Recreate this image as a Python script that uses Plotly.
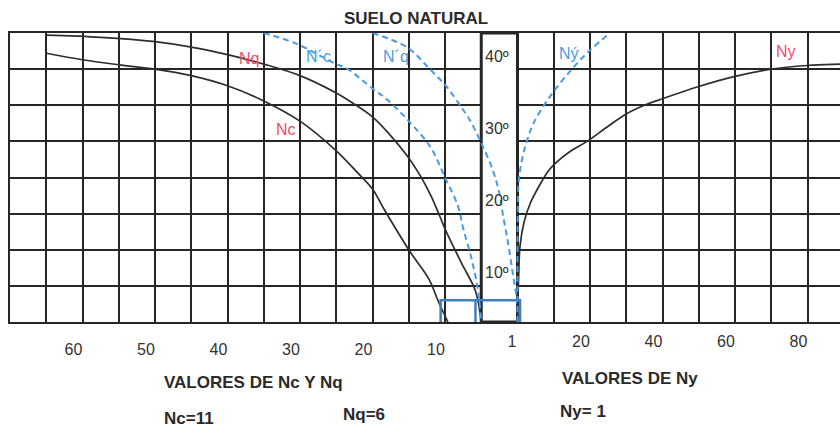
import plotly.graph_objects as go

# ---------------- data ----------------
# Left scale: values of Nc / Nq (and local-shear N'c / N'q); angle phi in degrees
nq_val = [60, 52.5, 45, 40, 35, 30, 25, 20, 18.5, 15, 12.5, 10.3, 8.5, 6.9, 5.7, 5.0, 2.7, 0.8, 0.0]
nq_phi = [39.7, 39.4, 38.8, 38.05, 37.0, 35.7, 34.1, 31.7, 30.8, 28.4, 25.8, 23.1, 20.4, 17.4, 14.6, 12.9, 8.1, 4.3, 0.0]

nc_val = [60, 55, 50, 45, 40, 35, 30, 25, 20, 17, 15, 13.4, 10, 7.2, 5.9, 4.6]
nc_phi = [37.2, 36.3, 35.6, 35.0, 34.1, 32.7, 30.6, 27.8, 23.7, 20.6, 18.4, 15.6, 10.0, 5.9, 2.8, 0.0]

ncl_val = [30, 25.7, 20.2, 18.4, 15, 13, 10, 7, 5, 3.2, 2.5, 1.3, 0.4, 0.0]
ncl_phi = [40, 38.6, 35.8, 35.0, 32.3, 30.8, 27.8, 24.2, 20, 16, 13, 8.6, 4.1, 0.0]

nql_val = [15, 10.2, 7.1, 4.8, 2.8, 1.6, 0.1, -1.6, -2.5, -3.0, -3.7, -4.4, -4.9, -5.1]
nql_phi = [40, 38, 35, 32.6, 29.8, 28, 25, 21, 17.8, 14.8, 10.9, 6.4, 3.2, 0.0]

# Right scale: values of Ny (general) and N'y (local)
ny_val = [0, 0.1, 0.3, 0.7, 1.8, 3.5, 6.4, 8.5, 10.5, 14.5, 19.2, 25, 30, 35, 40, 50, 60, 70, 80, 89, 95]
ny_phi = [0, 3, 6, 10.5, 13.8, 16.4, 19.2, 20.9, 22, 23.6, 25, 27.1, 28.8, 30.0, 30.9, 32.6, 34.0, 35.0, 35.5, 35.7, 35.8]

nyl_val = [0, 0, 0.1, 0.3, 1.2, 2.7, 4.5, 9.1, 15, 20, 25.5]
nyl_phi = [0, 10, 15, 19.2, 22.4, 25.2, 27.6, 31.3, 35, 37.6, 40]

# reading marks (blue) near the bottom
phi_read = 3.0
nc_read = 5.6
nq_read = 0.8
ny_read = 0.7

left_ticks = [60, 50, 40, 30, 20, 10]
right_ticks = [1, 20, 40, 60, 80]
deg_labels = [10, 20, 30, 40]

# ---------------- layout geometry ----------------
W, H = 840, 433
ML, MR, MT, MB = 10, 0, 33, 111
PW = W - ML - MR
PH = H - MT - MB
LEFT_MAX = 65.0                # Nc/Nq value at the left border
CELL = 5.0                     # Nc/Nq units per grid cell
CELLS = PW / 36.25             # number of cells across the plot
left_range = [LEFT_MAX, LEFT_MAX - CELLS * CELL]
box_cells = LEFT_MAX / CELL    # cells from left border to box-left
ny_range = [-(box_cells + 1) * 10, (CELLS - box_cells - 1) * 10]

BLACK = "#262626"
CURVE = "#2e2e2e"
BLUE = "#4a9be3"
BLUE2 = "#3f7fc0"
RED = "#ef4d66"
FONT = "Liberation Sans, Arial, sans-serif"


def px_x(px):
    return (px - ML) / PW


def px_y(py):
    return (H - MB - py) / PH


fig = go.Figure()

smooth = dict(shape="spline", smoothing=1.0)
fig.add_trace(go.Scatter(x=nq_val, y=nq_phi, mode="lines", xaxis="x", yaxis="y",
                         line=dict(color=CURVE, width=1.7, **smooth), hoverinfo="skip"))
fig.add_trace(go.Scatter(x=nc_val, y=nc_phi, mode="lines", xaxis="x", yaxis="y",
                         line=dict(color=CURVE, width=1.7, **smooth), hoverinfo="skip"))
fig.add_trace(go.Scatter(x=ncl_val, y=ncl_phi, mode="lines", xaxis="x", yaxis="y",
                         line=dict(color=BLUE, width=2, dash="6px,4px", **smooth), hoverinfo="skip"))
fig.add_trace(go.Scatter(x=nql_val, y=nql_phi, mode="lines", xaxis="x", yaxis="y",
                         line=dict(color=BLUE, width=2, dash="6px,4px", **smooth), hoverinfo="skip"))
fig.add_trace(go.Scatter(x=ny_val, y=ny_phi, mode="lines", xaxis="x2", yaxis="y",
                         line=dict(color=CURVE, width=1.7, **smooth), hoverinfo="skip"))
fig.add_trace(go.Scatter(x=nyl_val, y=nyl_phi, mode="lines", xaxis="x2", yaxis="y",
                         line=dict(color=BLUE, width=2, dash="6px,4px", **smooth), hoverinfo="skip"))

# reading marks
fig.add_trace(go.Scatter(x=[nc_read, nc_read, -5], y=[0, phi_read, phi_read], mode="lines",
                         xaxis="x", yaxis="y", line=dict(color=BLUE2, width=2.5), hoverinfo="skip"))
fig.add_trace(go.Scatter(x=[nq_read, nq_read], y=[phi_read, 0], mode="lines",
                         xaxis="x", yaxis="y", line=dict(color=BLUE2, width=2.5), hoverinfo="skip"))
fig.add_trace(go.Scatter(x=[0, ny_read, ny_read], y=[phi_read, phi_read, 0], mode="lines",
                         xaxis="x2", yaxis="y", line=dict(color=BLUE2, width=2.5), hoverinfo="skip"))

# central angle box
fig.add_shape(type="rect", xref="x", yref="y", x0=0, x1=-CELL, y0=0, y1=40,
              fillcolor="white", line=dict(color=BLACK, width=3), layer="between")

annotations = []
for d in deg_labels:
    annotations.append(dict(x=-CELL / 2, y=d, xref="x", yref="y", text=f"{d}º",
                            showarrow=False, yshift=-23, xshift=-2,
                            font=dict(family=FONT, size=16, color="#333")))

curve_labels = [
    ("Nq", 32.0, 36.5, "x", RED),
    ("Nc", 26.9, 26.6, "x", RED),
    ("N´c", 22.4, 36.8, "x", BLUE),
    ("N´q", 11.8, 36.7, "x", BLUE),
    ("Ný", 14.2, 37.1, "x2", BLUE),
    ("Ny", 74.1, 37.4, "x2", RED),
]
for txt, xv, yv, xr, col in curve_labels:
    annotations.append(dict(x=xv, y=yv, xref=xr, yref="y", text=txt, showarrow=False,
                            font=dict(family=FONT, size=16, color=col)))

texts = [
    ("SUELO NATURAL", 416, 18, "center", 17),
    ("VALORES DE Nc Y Nq", 162, 382, "left", 17),
    ("VALORES DE Ny", 560, 378, "left", 17),
    ("Nc=11", 162, 418, "left", 17),
    ("Nq=6", 341, 414, "left", 17),
    ("Ny= 1", 558, 411, "left", 17),
]
for txt, xp, yp, anc, sz in texts:
    annotations.append(dict(x=px_x(xp), y=px_y(yp), xref="paper", yref="paper", text=f"<b>{txt}</b>",
                            showarrow=False, xanchor=anc, yanchor="middle",
                            font=dict(family=FONT, size=sz, color="#2a2a2a")))

fig.update_layout(
    width=W, height=H,
    margin=dict(l=ML, r=MR, t=MT, b=MB),
    paper_bgcolor="white", plot_bgcolor="white",
    showlegend=False,
    annotations=annotations,
    xaxis=dict(range=left_range, showgrid=False, zeroline=False,
               tickmode="array", tickvals=[v - 3.75 for v in left_ticks],
               ticktext=[str(v) for v in left_ticks], ticks="",
               ticklabelstandoff=12,
               tickfont=dict(family=FONT, size=16, color="#333"),
               showline=True, mirror=True, linecolor=BLACK, linewidth=2,
               minor=dict(tickmode="linear", tick0=0, dtick=CELL, showgrid=True,
                          gridcolor=BLACK, gridwidth=2, ticks="")),
    xaxis2=dict(range=ny_range, overlaying="x", side="bottom", anchor="y",
                showgrid=False, zeroline=False, showline=False,
                tickmode="array", tickvals=[v - 2.5 for v in right_ticks],
                ticktext=[str(v) for v in right_ticks], ticks="",
                ticklabelstandoff=8,
                tickfont=dict(family=FONT, size=16, color="#333")),
    yaxis=dict(range=[0, 40], dtick=5, tick0=0, showgrid=True, gridcolor=BLACK, gridwidth=2,
               zeroline=False, showticklabels=False, ticks="",
               showline=True, linecolor=BLACK, linewidth=2, mirror=False),
)

fig.write_html("out.html")
